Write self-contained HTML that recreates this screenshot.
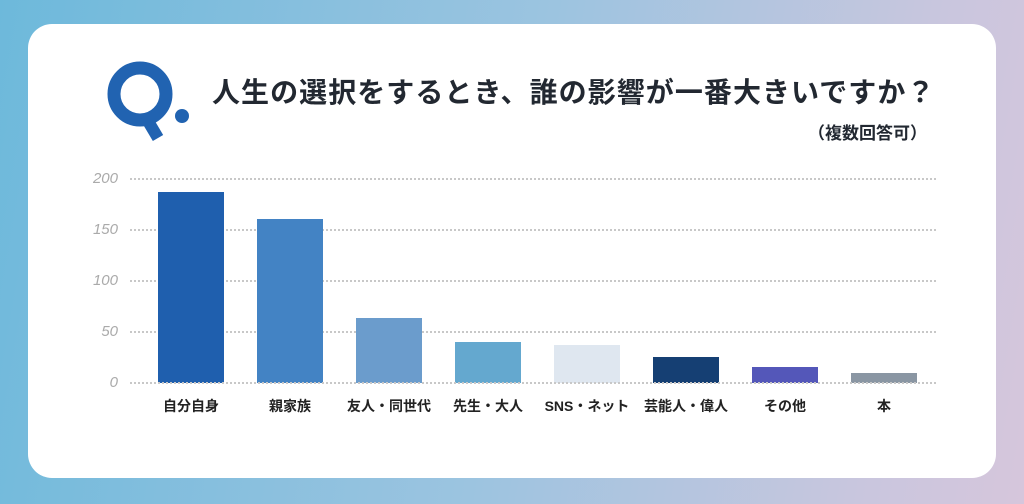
<!DOCTYPE html>
<html><head><meta charset="utf-8"><style>
*{margin:0;padding:0}
body{width:1024px;height:504px;overflow:hidden;background:linear-gradient(100deg,#6db9db 0%,#9cc4e0 50%,#c9c6de 85%,#d6c6dc 100%);font-family:"Liberation Sans","Noto Sans CJK JP",sans-serif;position:relative}
.card{position:absolute;left:28px;top:24px;width:968px;height:454px;background:#fff;border-radius:24px}
.t{position:absolute;left:212px;top:71px;font-size:28px;font-weight:bold;color:#222831;letter-spacing:1.05px;white-space:nowrap}
.s{position:absolute;left:808px;top:119px;font-size:17px;font-weight:bold;color:#222831;white-space:nowrap}
.g{position:absolute;left:130px;width:806px;border-top:2px dotted #c8c8c8;height:0}
.y{position:absolute;left:80px;width:38px;text-align:right;font-size:15px;font-style:italic;color:#aaa}
.b{position:absolute;width:66px}
.l{position:absolute;top:396px;width:120px;text-align:center;font-size:14px;font-weight:bold;color:#222;white-space:nowrap}
</style></head><body>
<div class="card"></div>
<svg style="position:absolute;left:0;top:0" width="1024" height="504">
<circle cx="140" cy="94" r="26" fill="none" stroke="#2163b1" stroke-width="13"/>
<line x1="145" y1="116" x2="158" y2="138" stroke="#2163b1" stroke-width="12"/>
<circle cx="182" cy="116" r="7" fill="#2163b1"/>
</svg>
<div class="t">人生の選択をするとき、誰の影響が一番大きいですか？</div>
<div class="s">（複数回答可）</div>
<div class="g" style="top:178px"></div><div class="y" style="top:170px">200</div>
<div class="g" style="top:229px"></div><div class="y" style="top:221px">150</div>
<div class="g" style="top:280px"></div><div class="y" style="top:272px">100</div>
<div class="g" style="top:331px"></div><div class="y" style="top:323px">50</div>
<div class="y" style="top:374px">0</div>
<div class="b" style="left:158px;top:192px;height:191px;background:#1f5fae"></div>
<div class="b" style="left:257px;top:219px;height:164px;background:#4383c4"></div>
<div class="b" style="left:356px;top:318px;height:65px;background:#6b9ccc"></div>
<div class="b" style="left:455px;top:342px;height:41px;background:#64a8cf"></div>
<div class="b" style="left:554px;top:345px;height:38px;background:#dfe7f0"></div>
<div class="b" style="left:653px;top:357px;height:26px;background:#153f73"></div>
<div class="b" style="left:752px;top:367px;height:16px;background:#5457b9"></div>
<div class="b" style="left:851px;top:373px;height:10px;background:#8a96a3"></div>
<div class="g" style="top:382px"></div>
<div class="l" style="left:131px">自分自身</div>
<div class="l" style="left:230px">親家族</div>
<div class="l" style="left:329px">友人・同世代</div>
<div class="l" style="left:428px">先生・大人</div>
<div class="l" style="left:527px">SNS・ネット</div>
<div class="l" style="left:626px">芸能人・偉人</div>
<div class="l" style="left:725px">その他</div>
<div class="l" style="left:824px">本</div>
</body></html>
